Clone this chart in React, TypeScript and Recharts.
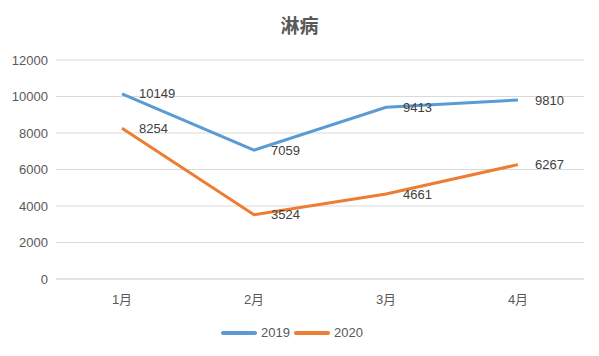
import React from 'react';
import {
  LineChart,
  Line,
  XAxis,
  YAxis,
  CartesianGrid,
  LabelList,
  Legend,
} from 'recharts';

const months = ['1月', '2月', '3月', '4月'];
const cases2019 = [10149, 7059, 9413, 9810];
const cases2020 = [8254, 3524, 4661, 6267];
const yTicks = [0, 2000, 4000, 6000, 8000, 10000, 12000];

const FONT = '"Liberation Sans", "Noto Sans CJK SC", sans-serif';
const TEXT = '#595959';

const data = months.map((m, i) => ({ month: m, y2019: cases2019[i], y2020: cases2020[i] }));

const series = [
  { key: 'y2019', name: '2019', color: '#5b9bd5' },
  { key: 'y2020', name: '2020', color: '#ed7d31' },
];

function LegendContent() {
  return (
    <div style={{ display: 'flex', justifyContent: 'center', gap: 4, paddingTop: 16, fontFamily: FONT, fontSize: 13, color: TEXT }}>
      {series.map((s) => (
        <span key={s.key} style={{ display: 'flex', alignItems: 'center' }}>
          <span style={{ display: 'inline-block', width: 36, height: 4, borderRadius: 2, background: s.color, marginRight: 4 }} />
          {s.name}
        </span>
      ))}
    </div>
  );
}

export default function App() {
  return (
    <div style={{ position: 'absolute', left: 0, top: 0, width: 599, height: 356, background: '#fff', fontFamily: FONT }}>
      <div
        style={{
          position: 'absolute',
          top: 11,
          left: 0,
          width: 599,
          textAlign: 'center',
          fontSize: 19,
          fontWeight: 'bold',
          color: TEXT,
        }}
      >
        淋病
      </div>
      <LineChart width={599} height={356} data={data} margin={{ top: 60, right: 15, bottom: 10, left: 0 }}>
        <CartesianGrid stroke="#d9d9d9" vertical={false} />
        <XAxis
          dataKey="month"
          stroke="#d9d9d9"
          tickLine={false}
          tick={{ fill: TEXT, fontSize: 13 }}
          tickMargin={10}
          height={30}
          padding={{ left: 66, right: 66 }}
        />
        <YAxis
          domain={[0, 12000]}
          ticks={yTicks}
          axisLine={false}
          tickLine={false}
          tick={{ fill: TEXT, fontSize: 13 }}
          width={56}
        />
        <Legend verticalAlign="bottom" height={37} content={<LegendContent />} />
        {series.map((s) => (
          <Line
            key={s.key}
            dataKey={s.key}
            name={s.name}
            stroke={s.color}
            strokeWidth={3}
            dot={false}
            isAnimationActive={false}
          >
            <LabelList dataKey={s.key} position="right" offset={17} fill="#404040" fontSize={13} />
          </Line>
        ))}
      </LineChart>
    </div>
  );
}
